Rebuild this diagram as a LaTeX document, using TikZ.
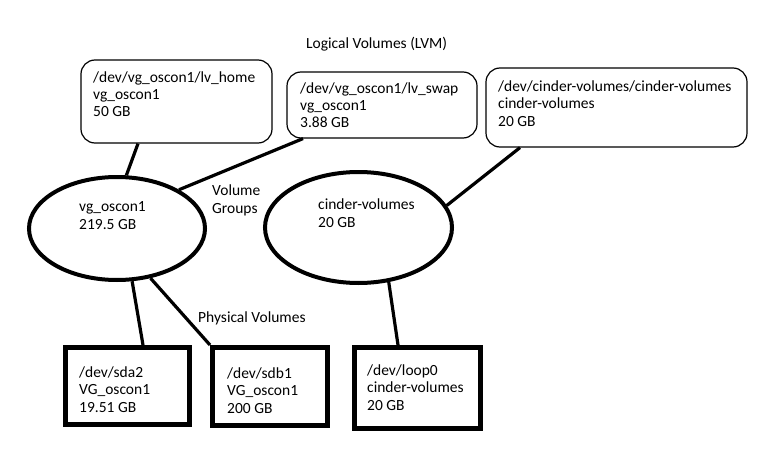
\documentclass[tikz,border=0pt]{standalone}
\usepackage{fontspec}
\setmainfont{Carlito}
\usetikzlibrary{shapes.geometric}
\begin{document}
\begin{tikzpicture}[x=1pt,y=-1pt,
  lvbox/.style={draw, line width=1.2pt, rounded corners=14pt, inner sep=0pt},
  vgell/.style={draw, ellipse, line width=4pt, inner sep=0pt},
  pvbox/.style={draw, rectangle, line width=5pt, inner sep=0pt},
  conn/.style={line width=3.2pt},
  txt/.style={anchor=base west, inner sep=0pt, align=left, font=\fontsize{15.5}{17.5}\selectfont}]
\useasboundingbox[fill=white] (0,0) rectangle (774,460);
% logical volumes
\node[lvbox, minimum width=191pt, minimum height=83pt] (home) at (176.5,101.5) {};
\node[lvbox, minimum width=190pt, minimum height=66pt] (swap) at (382,105) {};
\node[lvbox, minimum width=261pt, minimum height=79pt] (cv) at (616.5,107.5) {};
% volume groups
\node[vgell, minimum width=176pt, minimum height=103pt] (vg1) at (117,228.5) {};
\node[vgell, minimum width=187pt, minimum height=111pt] (vg2) at (358.5,227.5) {};
% physical volumes
\node[pvbox, minimum width=124pt, minimum height=77pt] (sda2) at (127.5,386) {};
\node[pvbox, minimum width=115pt, minimum height=78pt] (sdb1) at (270,386.5) {};
\node[pvbox, minimum width=126pt, minimum height=81pt] (loop0) at (417.5,388) {};
% texts (base anchor = baseline of last line)
\node[txt] (title) at (306,49) {Logical Volumes (LVM)};
\node[txt] (thome) at (93,117) {/dev/vg\_oscon1/lv\_home\\vg\_oscon1\\50 GB};
\node[txt] (tswap) at (300,128) {/dev/vg\_oscon1/lv\_swap\\vg\_oscon1\\3.88 GB};
\node[txt] (tcv) at (498,126) {/dev/cinder-volumes/cinder-volumes\\cinder-volumes\\20 GB};
\node[txt] (tvg1) at (79,229) {vg\_oscon1\\219.5 GB};
\node[txt] (tvg2) at (318,227) {cinder-volumes\\20 GB};
\node[txt] (tvgs) at (212,213) {Volume\\Groups};
\node[txt] (tpvs) at (198,322) {Physical Volumes};
\node[txt] (tsda2) at (79,412) {/dev/sda2\\VG\_oscon1\\19.51 GB};
\node[txt] (tsdb1) at (227,413) {/dev/sdb1\\VG\_oscon1\\200 GB};
\node[txt] (tloop0) at (367,410) {/dev/loop0\\cinder-volumes\\20 GB};
% connectors
\draw[conn] ([xshift=-38.5pt]home.south) -- (vg1.80);
\draw[conn] ([xshift=-79pt]swap.south) -- (vg1.32);
\draw[conn] ([xshift=-96.5pt]cv.south) -- (vg2.14);
\draw[conn] (vg1.-74) -- ([xshift=15.5pt]sda2.north);
\draw[conn] (vg1.-56) -- (sdb1.north west);
\draw[conn] (vg2.-61) -- ([xshift=-19.5pt]loop0.north);
\end{tikzpicture}
\end{document}
